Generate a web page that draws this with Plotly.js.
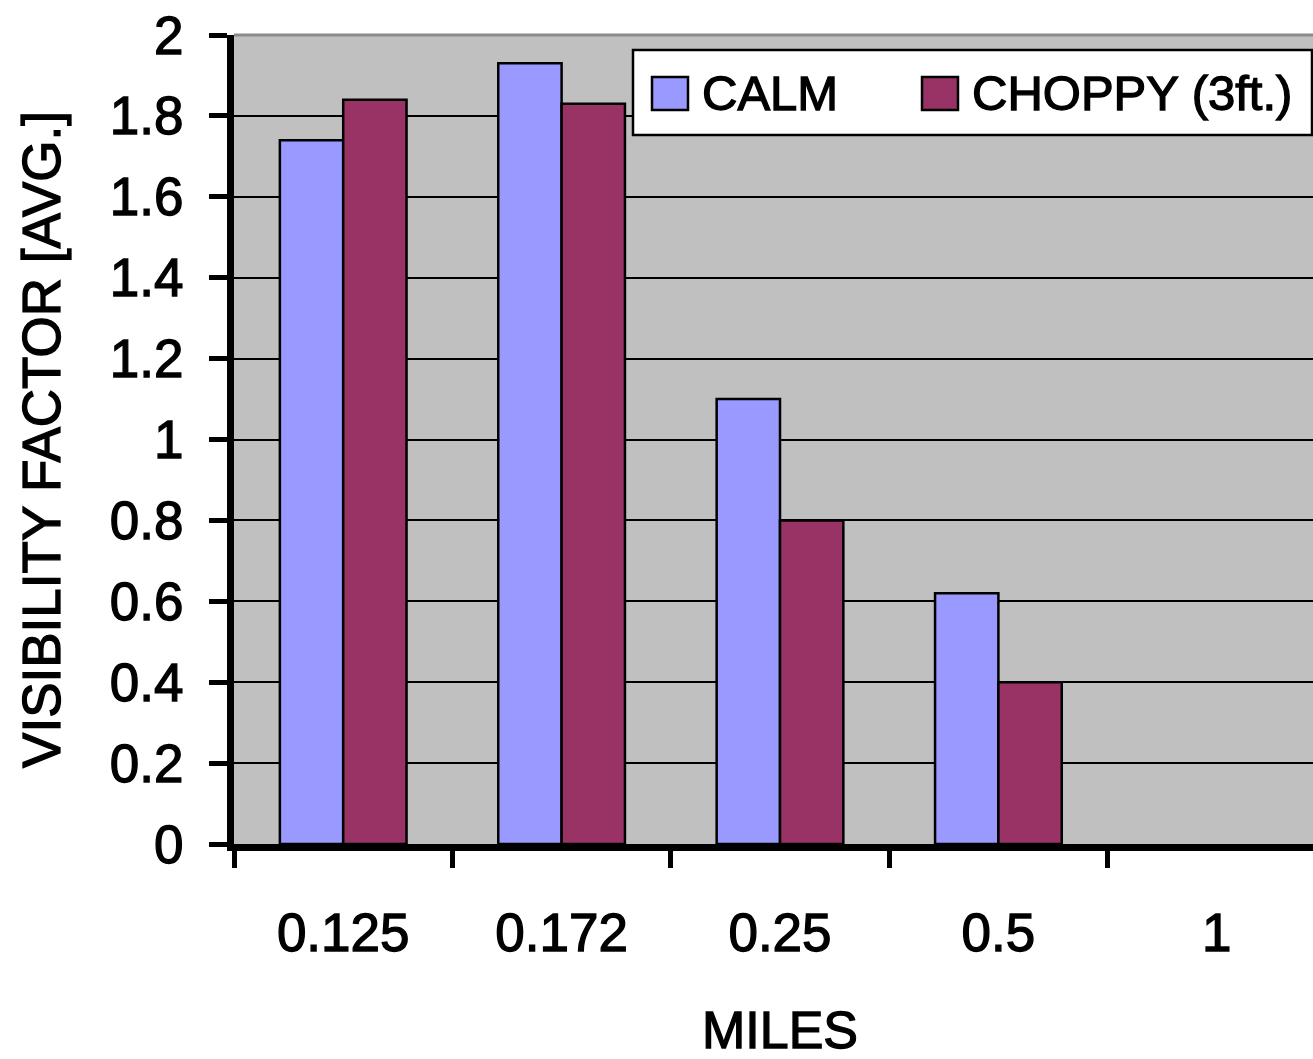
<!DOCTYPE html>
<html>
<head>
<meta charset="utf-8">
<script src="https://cdn.plot.ly/plotly-3.0.1.min.js"></script>
<style>
  html, body { margin: 0; padding: 0; overflow: hidden; background: #ffffff; }
  #chart { width: 1326px; height: 1059px; }
  #chart svg text { stroke: #000000; stroke-width: 1.3px; }
</style>
</head>
<body>
<div id="chart"></div>
<script>
// ---- data ----
const categories = ['0.125', '0.172', '0.25', '0.5', '1'];
const calmValues = [1.74, 1.93, 1.10, 0.62, null];
const choppyValues = [1.84, 1.83, 0.80, 0.40, null];
const seriesNames = ['CALM', 'CHOPPY (3ft.)'];
const yTickValues = [0, 0.2, 0.4, 0.6, 0.8, 1, 1.2, 1.4, 1.6, 1.8, 2];
const xTitle = 'MILES';
const yTitle = 'VISIBILITY FACTOR [AVG.]';

// ---- styling ----
const calmColor = '#9999FF';
const choppyColor = '#993366';
const plotBg = '#C0C0C0';
const FONT = '"Liberation Sans", Arial, sans-serif';

const W = 1326, H = 1059;
const M = { l: 234, r: 0, t: 35, b: 215 };
const plotW = W - M.l - M.r, plotH = H - M.t - M.b;
const px = x => (x - M.l) / plotW;
const py = y => (H - M.b - y) / plotH;

const traces = [
  { type: 'bar', name: seriesNames[0], x: categories, y: calmValues,
    marker: { color: calmColor, line: { color: '#000000', width: 2.5 } }, showlegend: false },
  { type: 'bar', name: seriesNames[1], x: categories, y: choppyValues,
    marker: { color: choppyColor, line: { color: '#000000', width: 2.5 } }, showlegend: false }
];

const legendFont = { family: FONT, size: 49, color: '#000000' };

const layout = {
  width: W, height: H,
  margin: M,
  paper_bgcolor: '#ffffff',
  plot_bgcolor: plotBg,
  barmode: 'group',
  bargap: 0.42,
  bargroupgap: 0,
  showlegend: false,
  font: { family: FONT, color: '#000000' },
  xaxis: {
    type: 'category',
    range: [-0.5, 4.5],
    tickson: 'boundaries',
    ticks: 'outside', ticklen: 17, tickwidth: 5, tickcolor: '#000000',
    showline: true, linewidth: 7, linecolor: '#000000',
    showgrid: false, zeroline: false,
    ticklabelstandoff: 36,
    tickfont: { family: FONT, size: 53, color: '#000000' },
    title: { text: xTitle, standoff: 59, font: { family: FONT, size: 52, color: '#000000' } }
  },
  yaxis: {
    range: [0, 2],
    tickvals: yTickValues,
    ticks: 'outside', ticklen: 18, tickwidth: 5, tickcolor: '#000000',
    showline: true, linewidth: 7, linecolor: '#000000',
    showgrid: true, gridcolor: '#000000', gridwidth: 2,
    zeroline: false,
    ticklabelstandoff: 15,
    tickfont: { family: FONT, size: 53, color: '#000000' },
    title: { text: yTitle, standoff: 35, font: { family: FONT, size: 53, color: '#000000' } }
  },
  shapes: [
    // plot-area top border
    { type: 'line', xref: 'paper', yref: 'paper', x0: 0, x1: 1, y0: 1, y1: 1,
      line: { color: '#8a8a8a', width: 3 }, layer: 'above' },
    // legend box
    { type: 'rect', xref: 'paper', yref: 'paper', x0: px(633), x1: px(1312), y0: py(135), y1: py(50),
      fillcolor: '#ffffff', line: { color: '#000000', width: 2.5 }, layer: 'above' },
    { type: 'rect', xref: 'paper', yref: 'paper', x0: px(652), x1: px(688), y0: py(110), y1: py(77),
      fillcolor: calmColor, line: { color: '#000000', width: 2.5 }, layer: 'above' },
    { type: 'rect', xref: 'paper', yref: 'paper', x0: px(922), x1: px(958), y0: py(110), y1: py(77),
      fillcolor: choppyColor, line: { color: '#000000', width: 2.5 }, layer: 'above' }
  ],
  annotations: [
    { xref: 'paper', yref: 'paper', x: px(700), y: py(93), xanchor: 'left', yanchor: 'middle',
      text: seriesNames[0], showarrow: false, font: legendFont },
    { xref: 'paper', yref: 'paper', x: px(970), y: py(93), xanchor: 'left', yanchor: 'middle',
      text: seriesNames[1], showarrow: false, font: legendFont }
  ]
};

Plotly.newPlot('chart', traces, layout, { displayModeBar: false, staticPlot: true });
</script>
</body>
</html>
